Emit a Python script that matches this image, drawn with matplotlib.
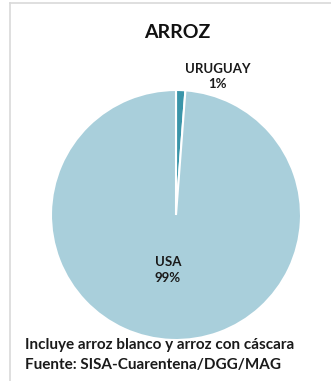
import matplotlib
matplotlib.use("Agg")
import matplotlib.pyplot as plt
from matplotlib.lines import Line2D

plt.rcParams["font.family"] = ["Lato", "DejaVu Sans"]

countries = ["URUGUAY", "USA"]
shares = [1.2, 98.8]
colors = ["#3a95a9", "#a9cfdb"]
title = "ARROZ"
notes = ["Incluye arroz blanco y arroz con cáscara",
         "Fuente: SISA-Cuarentena/DGG/MAG"]

W, H = 331, 381
fig = plt.figure(figsize=(W / 100, H / 100), dpi=100)
fig.patch.set_facecolor("white")

# frame lines
fig.add_artist(Line2D([10 / W, 1], [1 - 3 / H, 1 - 3 / H], color="#d9d9d9", lw=1.2,
                      transform=fig.transFigure))
fig.add_artist(Line2D([10 / W, 10 / W], [0, 1 - 3 / H], color="#d9d9d9", lw=1.2,
                      transform=fig.transFigure))

ax = fig.add_axes([51 / W, (H - 340) / H, 250 / W, 250 / H])
wedges, _ = ax.pie(shares, colors=colors, startangle=90, counterclock=False,
                   radius=1.0, wedgeprops=dict(edgecolor="white", linewidth=1.5))
ax.set_xlim(-1, 1)
ax.set_ylim(-1, 1)
ax.set_aspect("equal")
ax.axis("off")

label_pos = [(0.33, 1.11), (-0.064, -0.44)]
for name, val, (lx, ly) in zip(countries, shares, label_pos):
    ax.text(lx, ly, f"{name}\n{round(val):.0f}%", ha="center", va="center",
            fontsize=9.5, fontweight="bold", color="#1a1a1a", linespacing=1.3,
            clip_on=False)

fig.text(177 / W, 1 - 32 / H, title, ha="center", va="center", fontsize=14,
         fontweight="bold", color="#111111")

for i, line in enumerate(notes):
    fig.text(25 / W, 1 - (345 + 20 * i) / H, line, ha="left", va="center",
             fontsize=11, fontweight="bold", color="#1a1a1a")

fig.savefig("out.png", dpi=100, facecolor="white")
